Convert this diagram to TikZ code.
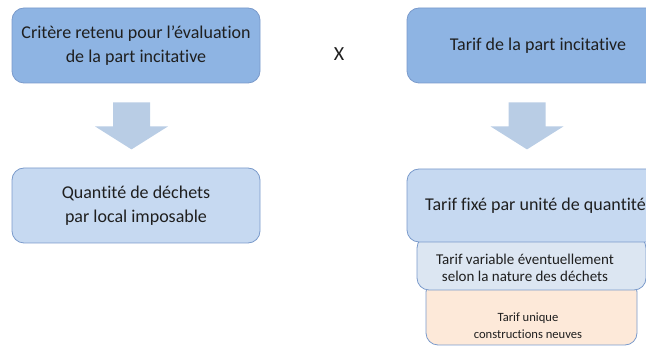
\documentclass[tikz,border=0pt]{standalone}
\usepackage{fontspec}
\setmainfont{Carlito}[Ligatures={NoCommon}]
\usetikzlibrary{calc}

\definecolor{topblue}{HTML}{8EB4E3}
\definecolor{lowblue}{HTML}{C6D9F1}
\definecolor{paleblue}{HTML}{DCE6F2}
\definecolor{peach}{HTML}{FDE9D9}
\definecolor{arrowfill}{HTML}{B9CDE5}
\definecolor{boxline}{HTML}{7A9ACB}
\definecolor{textgrey}{HTML}{1F1F1F}

\begin{document}
\begin{tikzpicture}[x=1pt, y=-1pt,
    box/.style={draw=boxline, line width=0.8pt, rounded corners=12pt, inner sep=0pt, align=center, text=textgrey},
    bigbox/.style={box, minimum height=75pt, font=\fontsize{18}{24}\selectfont},
    topbox/.style={bigbox, fill=topblue},
    lowbox/.style={bigbox, fill=lowblue},
    txt/.style={align=center, inner sep=0pt, text=textgrey}]

		\useasboundingbox (0,0) rectangle (646,347);
		\clip (0,0) rectangle (646,347);

		% top row
		\node[topbox, minimum width=248pt] (critere) at (136,45.5) {Critère retenu pour l’évaluation\\de la part incitative};
		\node[topbox, minimum width=262pt] (tarif) at (538,45.5) {Tarif de la part incitative};
		\node[txt, font=\fontsize{20}{24}\selectfont] (fois) at (339,54.5) {X};

		% bottom left
		\node[lowbox, minimum width=248pt] (quantite) at (136,205.5) {Quantité de déchets\\ par local imposable};

		% bottom right, stacked
		\node[box, fill=peach, minimum width=211pt, minimum height=65pt] (unique) at (531.5,312.5) {};
		\node[box, fill=paleblue, minimum width=229pt, minimum height=54pt] (variable) at (531.5,263) {};
		\node[lowbox, minimum width=257pt, minimum height=73pt] (fixe) at (535.5,205.5) {Tarif fixé par unité de quantité};
		\node[txt, font=\fontsize{15}{17}\selectfont] (variabletxt) at (525,268) {Tarif variable éventuellement\\selon la nature des déchets};
		\node[txt, font=\fontsize{12.6}{17}\selectfont] (uniquetxt) at (528,325.5) {Tarif unique\\constructions neuves};

		% block arrows
		\coordinate (flecheA) at ($(critere.south)+(-4.5,19)$);
		\coordinate (flecheB) at ($(tarif.south)+(-11,19)$);
		\fill[arrowfill] (flecheA) ++(-18.5,0) -- ++(37,0) -- ++(0,24) -- ++(18,0) -- ++(-36.5,23) -- ++(-36.5,-23) -- ++(18,0) -- cycle;
		\fill[arrowfill] (flecheB) ++(-18.5,0) -- ++(37,0) -- ++(0,24) -- ++(18,0) -- ++(-36.5,23) -- ++(-36.5,-23) -- ++(18,0) -- cycle;

\end{tikzpicture}
\end{document}
